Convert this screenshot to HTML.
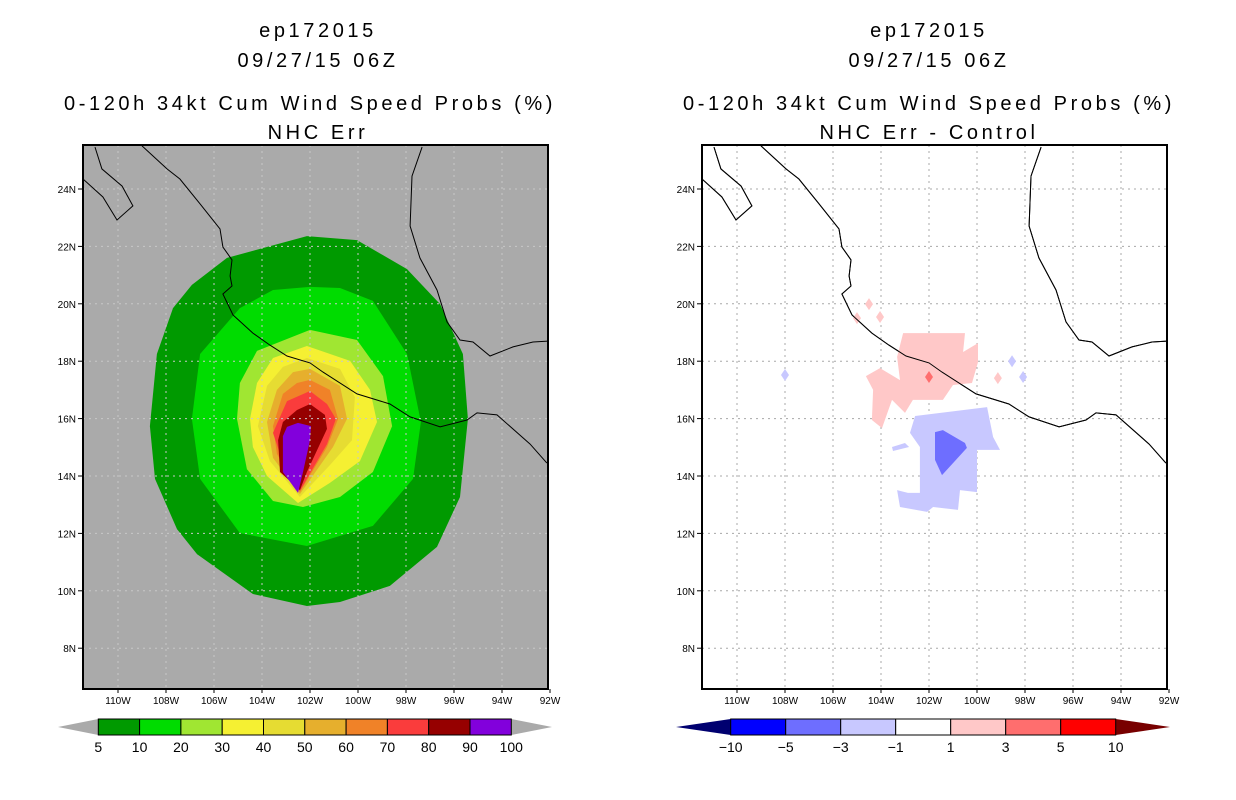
<!DOCTYPE html>
<html><head><meta charset="utf-8">
<style>
html,body{margin:0;padding:0;background:#fff;}
svg{display:block;font-family:"Liberation Sans",sans-serif;}
.ttl{letter-spacing:3.6px;}
</style></head>
<body>
<svg id="chart" width="1236" height="800" viewBox="0 0 1236 800">
<g font-size="20" text-anchor="middle" fill="#000" class="ttl">
<text x="318" y="37">ep172015</text>
<text x="318" y="67">09/27/15 06Z</text>
<text x="310" y="110">0-120h 34kt Cum Wind Speed Probs (%)</text>
<text x="318" y="139">NHC Err</text>
</g>
<g font-size="20" text-anchor="middle" fill="#000" class="ttl">
<text x="929" y="37">ep172015</text>
<text x="929" y="67">09/27/15 06Z</text>
<text x="929" y="110">0-120h 34kt Cum Wind Speed Probs (%)</text>
<text x="929" y="139">NHC Err - Control</text>
</g>
<g id="maps"></g>
<g id="cbars"></g>
</svg>
<script>
// ---- data ----
const lonTicks = [110,108,106,104,102,100,98,96,94,92];
const latTicks = [24,22,20,18,16,14,12,10,8];
const probLevels = [5,10,20,30,40,50,60,70,80,90];
const probColors = ["#009a00","#00dc00","#a0e632","#f5f032","#e6dc32","#e6af2d","#f08228","#fa3c3c","#960000","#8200dc"];
const p5 = [[106.92,20.66],[105.46,21.6],[102.13,22.36],[100.04,22.22],[97.96,21.21],[96.58,19.99],[95.63,18.25],[95.42,15.99],[95.75,13.27],[96.71,11.53],[98.67,10.17],[100.75,9.61],[102.13,9.47],[104.38,9.89],[106.71,11.28],[107.54,12.15],[108.46,13.9],[108.67,15.74],[108.38,18.25],[107.71,19.85]];
const p10 = [[103.54,20.48],[102.0,20.59],[100.75,20.55],[99.38,20.1],[97.96,18.25],[97.38,15.88],[97.71,13.9],[99.38,12.26],[102.13,11.56],[104.92,12.01],[106.58,13.9],[106.92,15.99],[106.58,18.25],[104.92,19.85]];
const p20 = [[102.0,19.09],[100.04,18.74],[98.96,17.48],[98.58,15.74],[99.38,14.14],[100.75,13.27],[102.29,12.92],[103.54,13.13],[104.63,14.24],[105.04,15.99],[104.92,17.24],[104.21,18.36]];
const p30 = [[102.13,18.53],[100.33,18.01],[99.5,17.0],[99.21,15.88],[99.92,14.52],[101.17,13.76],[102.5,13.06],[103.79,14.0],[104.38,15.01],[104.5,15.99],[104.21,17.24],[103.54,18.11]];
const p40 = [[102.13,18.11],[100.75,17.73],[100.13,16.75],[100.25,15.25],[101.17,14.38],[102.42,13.27],[103.67,14.52],[104.17,15.74],[103.79,17.14],[103.13,17.8]];
const p50 = [[102.0,17.73],[100.75,17.14],[100.46,15.99],[101.04,15.01],[102.42,13.37],[103.54,14.63],[103.79,15.88],[103.38,17.0],[102.71,17.62]];
const p60 = [[102.0,17.35],[101.17,17.0],[100.83,15.99],[101.29,15.01],[102.42,13.44],[103.38,14.77],[103.54,15.74],[103.13,16.86],[102.54,17.24]];
const p70 = [[102.0,16.96],[101.29,16.51],[100.92,15.99],[101.29,15.11],[102.42,13.48],[103.25,14.77],[103.54,15.5],[102.96,16.61]];
const p80 = [[102.0,16.51],[101.38,16.13],[101.29,15.64],[102.13,14.14],[102.42,13.51],[103.25,14.14],[103.33,15.25],[103.13,15.88],[102.54,16.3]];
const p90 = [[102.5,15.85],[101.96,15.74],[102.0,15.25],[102.29,14.14],[102.5,13.41],[103.13,14.14],[103.13,15.39],[102.96,15.71]];
const diffLevels = ["-10","-5","-3","-1","1","3","5","10"];
const diffColors = ["#0000ff","#6e6eff","#c8c8ff","#ffffff","#ffc8c8","#ff6e6e","#ff0000"];
const diffPink = [[103.08,18.98],[100.5,18.98],[100.58,18.32],[99.96,18.63],[99.96,17.97],[100.21,17.24],[101.0,17.17],[101.42,16.65],[102.67,16.65],[103.0,16.2],[103.54,16.65],[103.96,15.67],[104.38,15.95],[104.33,17.0],[104.63,17.48],[104.04,17.76],[103.21,17.34],[103.33,18.15]];
const diffBlueLight = [[102.58,16.09],[99.58,16.4],[99.33,15.36],[99.04,14.91],[100.0,14.91],[100.0,13.44],[100.71,13.51],[100.79,12.82],[101.83,12.92],[102.08,12.75],[103.21,12.92],[103.33,13.51],[102.88,13.41],[102.38,13.41],[102.38,15.01],[102.79,15.5]];
const diffBlueSmall = [[103.54,15.01],[103.0,15.15],[102.83,15.01],[103.5,14.87]];
const diffBlueDark = [[101.75,15.53],[101.42,15.6],[100.5,15.15],[100.42,14.98],[101.0,14.45],[101.46,14.03],[101.75,14.56]];
const diffDotLon = [104.5,104.04,105.0,99.13,98.54,98.08,108.0,102.0];
const diffDotLat = [19.99,19.54,19.5,17.41,18.0,17.45,17.52,17.45];
const diffDotVal = [2,2,2,2,-2,-2,-2,4];
const coastMain = [[109.0,25.5],[107.96,24.7],[107.42,24.35],[106.58,23.48],[105.75,22.61],[105.63,21.98],[105.25,21.53],[105.33,20.97],[105.25,20.62],[105.63,20.34],[105.21,19.61],[104.38,18.98],[103.67,18.56],[102.96,18.18],[102.0,17.94],[101.46,17.62],[100.04,16.86],[98.67,16.51],[97.83,16.06],[96.58,15.71],[95.46,15.95],[95.04,16.2],[94.21,16.13],[92.83,15.11],[92.13,14.45]];
const coastBaja = [[110.96,25.46],[110.67,24.7],[109.83,24.1],[109.38,23.41],[110.04,22.92],[110.63,23.72],[111.46,24.35]];
const coastGulf = [[97.33,25.46],[97.75,24.45],[97.83,22.71],[97.42,21.6],[96.71,20.48],[96.29,19.37],[95.75,18.74],[95.21,18.67],[94.5,18.18],[93.54,18.5],[92.71,18.67],[92.08,18.7]];

// ---- geometry ----
const NS='http://www.w3.org/2000/svg';
const BOX={x0:83,x1:548,y0:145,y1:689};
function xs(lon,off){return 118+(110-lon)*24+off;}
function ys(lat){return 189+(24-lat)*28.7;}
function mk(tag,attrs,parent){const e=document.createElementNS(NS,tag);for(const k in attrs)e.setAttribute(k,attrs[k]);parent.appendChild(e);return e;}
function pts(arr,off){return arr.map(p=>xs(p[0],off).toFixed(1)+','+ys(p[1]).toFixed(1)).join(' ');}
const maps=document.getElementById('maps');

function drawMap(off,bg,side){
  const g=mk('g',{},maps);
  
  
  const cid='clip-'+side;
  const cp=mk('clipPath',{id:cid},g);
  mk('rect',{x:BOX.x0+off,y:BOX.y0,width:BOX.x1-BOX.x0,height:BOX.y1-BOX.y0},cp);
  const bgr=mk('rect',{x:BOX.x0+off,y:BOX.y0,width:BOX.x1-BOX.x0,height:BOX.y1-BOX.y0,fill:bg},g);
  
  
  const inner=mk('g',{'clip-path':'url(#'+cid+')'},g);
  return {g,inner};
}
function drawGridCoast(m,off,side,gridColor){
  const gg=mk('g',{stroke:gridColor,'stroke-width':1,'stroke-dasharray':'2,4'},m.inner);
  
  
  lonTicks.slice(0,9).forEach(l=>{mk('line',{x1:xs(l,off),x2:xs(l,off),y1:BOX.y0,y2:BOX.y1},gg);});
  latTicks.forEach(l=>{mk('line',{x1:BOX.x0+off,x2:BOX.x1+off,y1:ys(l),y2:ys(l)},gg);});
  const cg=mk('g',{fill:'none',stroke:'#000','stroke-width':1},m.inner);
  
  
  [coastMain,coastBaja,coastGulf].forEach(c=>{mk('polyline',{points:pts(c,off)},cg);});
}
function drawAxes(m,off,side){
  mk('rect',{x:BOX.x0+off,y:BOX.y0,width:BOX.x1-BOX.x0,height:BOX.y1-BOX.y0,fill:'none',stroke:'#000','stroke-width':2},m.g);
  const ax=mk('g',{'font-size':10,fill:'#000'},m.g);
  
  
  latTicks.forEach(l=>{
    mk('line',{x1:BOX.x0+off-5,x2:BOX.x0+off,y1:ys(l),y2:ys(l),stroke:'#000'},ax);
    const t=mk('text',{x:BOX.x0+off-7,y:ys(l)+4,'text-anchor':'end'},ax);
    t.textContent=l+'N';
    
    
  });
  lonTicks.forEach(l=>{
    mk('line',{x1:xs(l,off),x2:xs(l,off),y1:BOX.y1,y2:BOX.y1+4,stroke:'#000'},ax);
    const t=mk('text',{x:xs(l,off),y:BOX.y1+15,'text-anchor':'middle'},ax);
    t.textContent=l+'W';
    
    
  });
}

// left map
const L=drawMap(0,'#aaaaaa','left');
[p5,p10,p20,p30,p40,p50,p60,p70,p80,p90].forEach((poly,i)=>{
  const p=mk('polygon',{points:pts(poly,0),fill:probColors[i]},L.inner);
  
  
});
drawGridCoast(L,0,'left','#c8c8c8');
drawAxes(L,0,'left');

// right map
const OFF=619;
const R=drawMap(OFF,'#ffffff','right');
drawGridCoast(R,OFF,'right','#a8a8a8');
function diffColor(v){if(v<=-5)return diffColors[0];if(v<=-3)return diffColors[1];if(v<=-1)return diffColors[2];if(v<1)return diffColors[3];if(v<3)return diffColors[4];if(v<5)return diffColors[5];return diffColors[6];}
[[diffPink,'#ffc8c8','diff-pink-area'],[diffBlueLight,'#c8c8ff','diff-light-blue-area'],[diffBlueSmall,'#c8c8ff','diff-light-blue-small'],[diffBlueDark,'#6e6eff','diff-dark-blue-area']].forEach(d=>{
  const p=mk('polygon',{points:pts(d[0],OFF),fill:d[1]},R.inner);
  
  
});
diffDotLon.forEach((lon,i)=>{
  const cx=xs(lon,OFF),cy=ys(diffDotLat[i]);
  const p=mk('polygon',{points:`${cx},${cy-6} ${cx+4},${cy} ${cx},${cy+6} ${cx-4},${cy}`,fill:diffColor(diffDotVal[i])},R.inner);
  
  
});
const cg2=mk('g',{fill:'none',stroke:'#000','stroke-width':1},R.inner);


[coastMain,coastBaja,coastGulf].forEach(c=>{mk('polyline',{points:pts(c,OFF)},cg2);});
drawAxes(R,OFF,'right');

// colorbars
const cb=document.getElementById('cbars');
function colorbar(x0,w,colors,labels,tipL,tipR,tipX0,tipX1,side){
  const g=mk('g',{},cb);
  
  
  const y0=719,y1=735,ym=727;
  const n=colors.length,x1=x0+w*n;
  const tl=mk('polygon',{points:`${tipX0},${ym} ${x0},${y0} ${x0},${y1}`,fill:tipL},g);
  
  
  const tr=mk('polygon',{points:`${tipX1},${ym} ${x1},${y0} ${x1},${y1}`,fill:tipR},g);
  
  
  colors.forEach((c,i)=>{
    const r=mk('rect',{x:x0+i*w,y:y0,width:w,height:y1-y0,fill:c,stroke:'#000','stroke-width':1},g);
    
    
  });
  labels.forEach((l,i)=>{
    const t=mk('text',{x:x0+i*w,y:752,'text-anchor':'middle','font-size':14,fill:'#000'},g);
    t.textContent=l.replace('-','\u2212');
    
    
  });
}
colorbar(98.3,41.3,probColors,probLevels.concat([100]).map(String),'#aaaaaa','#aaaaaa',58,552,'left');
colorbar(730.7,55,diffColors,diffLevels,'#000070','#780000',676,1170,'right');
</script>
</body></html>
